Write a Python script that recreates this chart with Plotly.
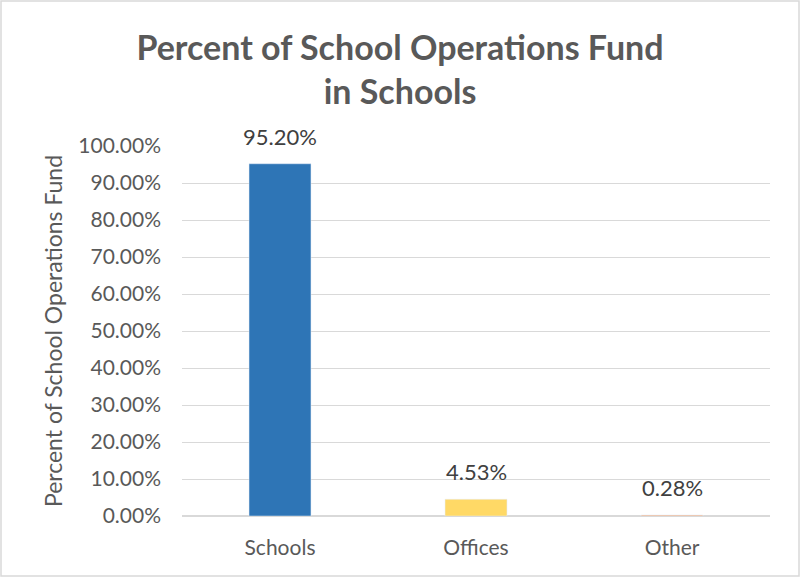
import plotly.graph_objects as go

categories = ["Schools", "Offices", "Other"]
values = [0.952, 0.0453, 0.0028]
colors = ["#2E75B6", "#FFD966", "#F4B183"]
y_ticks = [i / 10 for i in range(11)]

L, R, T, B, W, H = 182, 30, 146, 61, 800, 577
pw, ph = W - L - R, H - T - B
FONT = "Lato, Open Sans, sans-serif"

fig = go.Figure(go.Bar(
    x=categories, y=values, marker_color=colors, width=0.316,
))
for c, v in zip(categories, values):
    fig.add_annotation(x=c, y=v, text=f"{v:.2%}", showarrow=False,
                       yanchor="bottom", yshift=12,
                       font=dict(family=FONT, size=22, color="#404040"))
fig.update_layout(
    width=W, height=H, margin=dict(l=L, r=R, t=T, b=B),
    paper_bgcolor="white", plot_bgcolor="white", showlegend=False,
    title=dict(text="<b>Percent of School Operations Fund<br>in Schools</b>",
               x=0.5, xanchor="center", y=0.896, yanchor="middle",
               font=dict(family=FONT, size=34, color="#595959")),
    font=dict(family=FONT, color="#595959"),
)
fig.update_yaxes(range=[0, 1], tickvals=y_ticks, tickformat=".2%",
                 gridcolor="#D9D9D9", gridwidth=1, zeroline=True, zerolinecolor="#D9D9D9",
                 tickfont=dict(size=21, color="#595959"), ticks="", ticklen=0,
                 ticklabelstandoff=20,
                 title=dict(text="Percent of School Operations Fund", standoff=9,
                            font=dict(size=23, color="#595959")),
                 showline=False)
fig.update_xaxes(tickfont=dict(size=21, color="#595959"), showline=True, linecolor="#D9D9D9",
                 ticks="", ticklabelstandoff=13)
fig.add_shape(type="rect", xref="paper", yref="paper",
              x0=(1 - L) / pw, x1=(W - 1 - L) / pw,
              y0=-(B - 1) / ph, y1=(ph + T - 1) / ph,
              line=dict(color="#D9D9D9", width=1.5), fillcolor="rgba(0,0,0,0)")
fig.write_html("out.html", config={"displayModeBar": False},
               post_script="document.body.style.margin='0';")
